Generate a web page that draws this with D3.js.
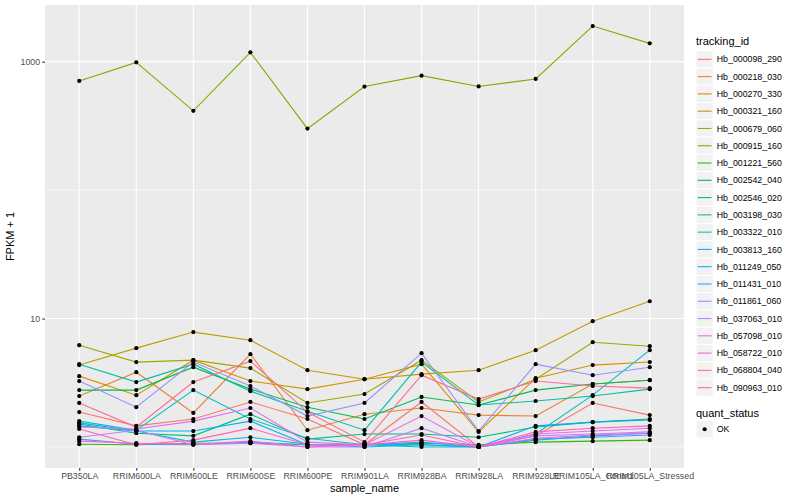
<!DOCTYPE html>
<html>
<head>
<meta charset="utf-8">
<script src="https://cdn.jsdelivr.net/npm/d3@7.9.0/dist/d3.min.js"></script>
<style>
  body { margin: 0; background: #fff; }
  svg text { font-family: "Liberation Sans", Arial, sans-serif; }
</style>
</head>
<body>
<svg width="800" height="500"></svg>
<script>
const samples = ['PB350LA', 'RRIM600LA', 'RRIM600LE', 'RRIM600SE', 'RRIM600PE', 'RRIM901LA',
  'RRIM928BA', 'RRIM928LA', 'RRIM928LE', 'RRIM105LA_Control', 'RRIM105LA_Stressed'];

const trackingIds = ['Hb_000098_290', 'Hb_000218_030', 'Hb_000270_330', 'Hb_000321_160', 'Hb_000679_060',
  'Hb_000915_160', 'Hb_001221_560', 'Hb_002542_040', 'Hb_002546_020', 'Hb_003198_030', 'Hb_003322_010',
  'Hb_003813_160', 'Hb_011249_050', 'Hb_011431_010', 'Hb_011861_060', 'Hb_037063_010', 'Hb_057098_010',
  'Hb_058722_010', 'Hb_068804_040', 'Hb_090963_010'];

// FPKM + 1, one array per gene, in sample order
const hb_000098_290 = [1.87, 1.46, 1.65, 2.24, 1.65, 1.04, 2.24, 1.00, 1.22, 2.20, 1.77];
const hb_000218_030 = [2.49, 3.82, 1.84, 5.28, 1.35, 1.80, 2.01, 1.77, 1.74, 3.09, 3.31];
const hb_000270_330 = [3.56, 2.53, 4.74, 3.26, 2.82, 3.37, 4.41, 1.31, 3.43, 4.34, 4.58];
const hb_000321_160 = [4.34, 5.88, 7.84, 6.78, 3.96, 3.37, 3.69, 3.96, 5.67, 9.53, 13.63];
const hb_000679_060 = [6.20, 4.58, 4.74, 4.11, 2.20, 2.58, 4.74, 2.24, 3.37, 6.54, 6.09];
const hb_000915_160 = [708, 987, 414, 1181, 301, 640, 778, 641, 733, 1893, 1388];
const hb_001221_560 = [1.05, 1.04, 1.07, 1.07, 1.04, 1.04, 1.07, 1.04, 1.09, 1.11, 1.13];
const hb_002542_040 = [2.77, 2.77, 4.18, 2.82, 2.04, 1.65, 2.45, 2.12, 2.77, 3.09, 3.31];
const hb_002546_020 = [1.51, 1.28, 1.22, 1.80, 1.15, 1.26, 1.26, 1.19, 1.43, 1.56, 1.65];
const hb_003198_030 = [4.41, 3.20, 4.41, 2.72, 1.90, 1.35, 4.58, 2.12, 2.28, 2.49, 2.82];
const hb_003322_010 = [1.59, 1.35, 2.77, 1.65, 1.17, 1.04, 1.00, 1.00, 1.26, 2.53, 5.67];
const hb_003813_160 = [1.46, 1.33, 1.09, 1.19, 1.05, 1.00, 1.04, 1.00, 1.13, 1.22, 1.28];
const hb_011249_050 = [1.54, 1.33, 1.33, 1.59, 1.04, 1.05, 1.04, 1.00, 1.46, 1.56, 1.62];
const hb_011431_010 = [1.15, 1.05, 1.04, 1.09, 1.04, 1.04, 1.09, 1.00, 1.15, 1.19, 1.24];
const hb_011861_060 = [3.26, 2.04, 4.58, 2.98, 1.74, 2.20, 5.37, 1.33, 4.41, 3.62, 4.18];
const hb_037063_010 = [1.19, 1.35, 1.04, 1.07, 1.00, 1.00, 1.40, 1.00, 1.22, 1.26, 1.31];
const hb_057098_010 = [1.43, 1.38, 1.59, 2.01, 1.09, 1.04, 1.74, 1.00, 1.26, 1.33, 1.40];
const hb_058722_010 = [1.11, 1.07, 1.05, 1.11, 1.00, 1.04, 1.13, 1.00, 1.17, 1.24, 1.28];
const hb_068804_040 = [1.38, 1.04, 1.13, 1.40, 1.04, 1.04, 1.24, 1.00, 1.31, 1.40, 1.46];
const hb_090963_010 = [2.20, 1.43, 3.20, 4.66, 1.87, 1.09, 3.62, 2.36, 3.26, 2.98, 2.87];

const seriesValues = [hb_000098_290, hb_000218_030, hb_000270_330, hb_000321_160, hb_000679_060,
  hb_000915_160, hb_001221_560, hb_002542_040, hb_002546_020, hb_003198_030, hb_003322_010,
  hb_003813_160, hb_011249_050, hb_011431_010, hb_011861_060, hb_037063_010, hb_057098_010,
  hb_058722_010, hb_068804_040, hb_090963_010];

// ggplot hue palette for 20 groups
const palette = ['#F8766D', '#EA8331', '#D89000', '#C09B00', '#A3A500', '#7CAE00', '#39B600', '#00BB4E',
  '#00BF7D', '#00C1A3', '#00BFC4', '#00BAE0', '#00B0F6', '#35A2FF', '#9590FF', '#C77CFF', '#E76BF3',
  '#FA62DB', '#FF62BC', '#FF6C91'];

const yTicks = [10, 1000];
const yMinor = [1, 100];

const svg = d3.select('svg');
const panel = { left: 45, right: 684, top: 5, bottom: 468 };

const x = d3.scalePoint().domain(samples).range([panel.left, panel.right]).padding(0.6);

// log extent with ggplot-like 5% expansion
let all = seriesValues.flat();
let lo = Math.log10(d3.min(all)), hi = Math.log10(d3.max(all));
let pad = (hi - lo) * 0.05;
const y = d3.scaleLog().domain([10 ** (lo - pad), 10 ** (hi + pad)]).range([panel.bottom, panel.top]);

svg.append('rect')
  .attr('x', panel.left).attr('y', panel.top)
  .attr('width', panel.right - panel.left).attr('height', panel.bottom - panel.top)
  .attr('fill', '#EBEBEB');

let grid = svg.append('g');
yMinor.forEach(v => {
  grid.append('line').attr('x1', panel.left).attr('x2', panel.right)
    .attr('y1', y(v)).attr('y2', y(v)).attr('stroke', '#fff').attr('stroke-width', 0.55);
});
yTicks.forEach(v => {
  grid.append('line').attr('x1', panel.left).attr('x2', panel.right)
    .attr('y1', y(v)).attr('y2', y(v)).attr('stroke', '#fff').attr('stroke-width', 1.1);
});
samples.forEach(s => {
  grid.append('line').attr('x1', x(s)).attr('x2', x(s))
    .attr('y1', panel.top).attr('y2', panel.bottom).attr('stroke', '#fff').attr('stroke-width', 1.1);
});

const line = d3.line().x((d, i) => x(samples[i])).y(d => y(d));

seriesValues.forEach((vals, idx) => {
  svg.append('path')
    .attr('d', line(vals))
    .attr('fill', 'none')
    .attr('stroke', palette[idx])
    .attr('stroke-width', 1.1);
});
seriesValues.forEach(vals => {
  vals.forEach((v, i) => {
    svg.append('circle').attr('cx', x(samples[i])).attr('cy', y(v)).attr('r', 2.1).attr('fill', '#000');
  });
});

// axes
let yAxis = svg.append('g').attr('transform', `translate(${panel.left},0)`)
  .call(d3.axisLeft(y).tickValues(yTicks).tickFormat(d3.format('d')).tickSize(2.75).tickPadding(2.2));
let xAxis = svg.append('g').attr('transform', `translate(0,${panel.bottom})`)
  .call(d3.axisBottom(x).tickSize(2.75).tickPadding(2.2));
[yAxis, xAxis].forEach(a => {
  a.select('.domain').remove();
  a.selectAll('line').attr('stroke', '#333333').attr('stroke-width', 1.1);
  a.selectAll('text').attr('fill', '#4D4D4D').attr('font-size', 8.8)
    .style('font-family', '"Liberation Sans", Arial, sans-serif');
});

svg.append('text').attr('x', (panel.left + panel.right) / 2).attr('y', 492)
  .attr('text-anchor', 'middle').attr('font-size', 11).attr('fill', '#000').text('sample_name');
svg.append('text')
  .attr('transform', `translate(14,${(panel.top + panel.bottom) / 2}) rotate(-90)`)
  .attr('text-anchor', 'middle').attr('font-size', 11).attr('fill', '#000').text('FPKM + 1');

// legends
const keyW = 17.28;
let legend = svg.append('g').attr('transform', 'translate(696,0)');
legend.append('text').attr('x', 0).attr('y', 44.5).attr('font-size', 11).text('tracking_id');
trackingIds.forEach((id, idx) => {
  let top = 50.7 + idx * keyW;
  legend.append('rect').attr('x', 0).attr('y', top).attr('width', keyW).attr('height', keyW)
    .attr('fill', '#F2F2F2').attr('stroke', '#fff');
  legend.append('line').attr('x1', 1.7).attr('x2', keyW - 1.7)
    .attr('y1', top + keyW / 2).attr('y2', top + keyW / 2)
    .attr('stroke', palette[idx]).attr('stroke-width', 1.1);
  legend.append('text').attr('x', keyW + 3.5).attr('y', top + keyW / 2 + 3.1)
    .attr('font-size', 8.8).text(id);
});
legend.append('text').attr('x', 0).attr('y', 416.5).attr('font-size', 11).text('quant_status');
legend.append('rect').attr('x', 0).attr('y', 420.6).attr('width', keyW).attr('height', keyW)
  .attr('fill', '#F2F2F2').attr('stroke', '#fff');
legend.append('circle').attr('cx', keyW / 2).attr('cy', 420.6 + keyW / 2).attr('r', 2.1).attr('fill', '#000');
legend.append('text').attr('x', keyW + 3.5).attr('y', 420.6 + keyW / 2 + 3.1).attr('font-size', 8.8).text('OK');
</script>
</body>
</html>
